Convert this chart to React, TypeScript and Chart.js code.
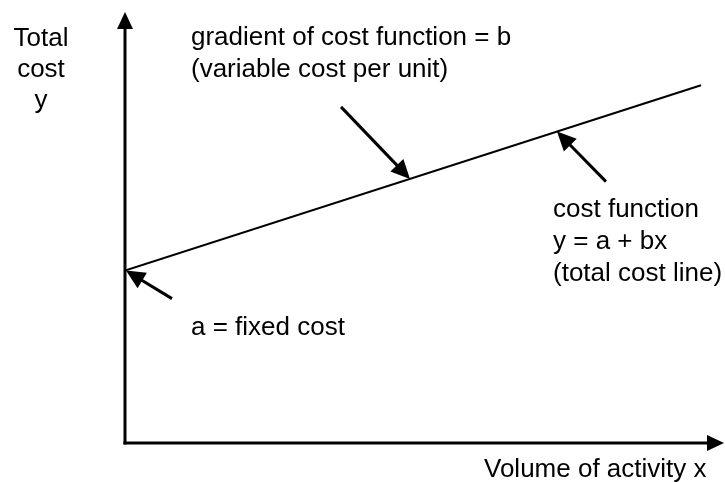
import React, { useEffect, useRef } from "react";
import { Chart, registerables } from "chart.js";

Chart.register(...registerables);

// Data (abstract units)
const volumeValues = [0, 96];
const costValues = [40, 83];
const fixedCost = 40;
const variableCost = (83 - 40) / 96;

// Annotation texts
const yAxisTitle = ["Total", "cost", "y"];
const gradientText = ["gradient of cost function = b", "(variable cost per unit)"];
const functionText = ["cost function", "y = a + bx", "(total cost line)"];
const fixedText = ["a = fixed cost"];
const xAxisTitle = "Volume of activity x";

// Arrow tips at volume positions on the cost line
const arrowTipsX = [0, 47.5, 72];

const FONT = "26px 'Liberation Sans', Arial, Helvetica, sans-serif";

function head(ctx: CanvasRenderingContext2D, tx: number, ty: number, fx: number, fy: number, len: number, half: number) {
  const ang = Math.atan2(ty - fy, tx - fx);
  ctx.beginPath();
  ctx.moveTo(tx, ty);
  ctx.lineTo(tx - len * Math.cos(ang) + half * Math.sin(ang), ty - len * Math.sin(ang) - half * Math.cos(ang));
  ctx.lineTo(tx - len * Math.cos(ang) - half * Math.sin(ang), ty - len * Math.sin(ang) + half * Math.cos(ang));
  ctx.closePath();
  ctx.fill();
}

function arrow(ctx: CanvasRenderingContext2D, fx: number, fy: number, tx: number, ty: number, len: number, half: number, lw: number) {
  const ang = Math.atan2(ty - fy, tx - fx);
  ctx.lineWidth = lw;
  ctx.beginPath();
  ctx.moveTo(fx, fy);
  ctx.lineTo(tx - (len - 2) * Math.cos(ang), ty - (len - 2) * Math.sin(ang));
  ctx.stroke();
  head(ctx, tx, ty, fx, fy, len, half);
}

const decorPlugin = {
  id: "decor",
  afterDatasetsDraw(chart: any) {
    const ctx: CanvasRenderingContext2D = chart.ctx;
    const { left, right, top, bottom } = chart.chartArea;
    const xs = chart.scales.x;
    const ys = chart.scales.y;
    ctx.save();
    ctx.strokeStyle = "#000";
    ctx.fillStyle = "#000";
    ctx.lineCap = "butt";
    // axes
    arrow(ctx, left, bottom + 1.5, left, top, 17, 8, 3);
    arrow(ctx, left - 1.5, bottom, right - 1, bottom, 17, 8, 3);

    // pointer arrows
    const tips = arrowTipsX.map((v) => ({
      x: xs.getPixelForValue(v),
      y: ys.getPixelForValue(fixedCost + variableCost * v),
    }));
    const offsets = [
      { dx: 47, dy: 28 },
      { dx: -69, dy: -72 },
      { dx: 49, dy: 50 },
    ];
    tips.forEach((t, i) => {
      arrow(ctx, t.x + offsets[i].dx, t.y + offsets[i].dy, t.x + (i === 0 ? 1 : 0), t.y, 19, 9, 3);
    });

    // texts
    ctx.font = FONT;
    ctx.textBaseline = "middle";
    ctx.textAlign = "center";
    yAxisTitle.forEach((s, i) => ctx.fillText(s, 41, 39 + i * 31));
    ctx.textAlign = "left";
    gradientText.forEach((s, i) => ctx.fillText(s, 191, 38 + i * 32));
    functionText.forEach((s, i) => ctx.fillText(s, 553, 210 + i * 32));
    fixedText.forEach((s, i) => ctx.fillText(s, 191, 328 + i * 32));
    ctx.fillText(xAxisTitle, 484, 470);
    ctx.restore();
  },
};

export default function App() {
  const ref = useRef<HTMLCanvasElement>(null);
  useEffect(() => {
    if (!ref.current) return;
    const chart = new Chart(ref.current, {
      type: "scatter",
      data: {
        datasets: [
          {
            data: volumeValues.map((v, i) => ({ x: v, y: costValues[i] })),
            showLine: true,
            borderColor: "#000",
            borderWidth: 2,
            pointRadius: 0,
            fill: false,
          },
        ],
      },
      options: {
        responsive: false,
        animation: false,
        devicePixelRatio: 1,
        layout: { padding: { left: 125, top: 12, right: 0, bottom: 39 } },
        plugins: { legend: { display: false }, tooltip: { enabled: false } },
        scales: {
          x: { type: "linear", min: 0, max: 100, display: false },
          y: { type: "linear", min: 0, max: 100, display: false },
        },
      },
      plugins: [decorPlugin],
    });
    return () => chart.destroy();
  }, []);
  return (
    <div style={{ position: "absolute", left: 0, top: 0, width: 725, height: 482, background: "#fff" }}>
      <canvas ref={ref} width={725} height={482} />
    </div>
  );
}
